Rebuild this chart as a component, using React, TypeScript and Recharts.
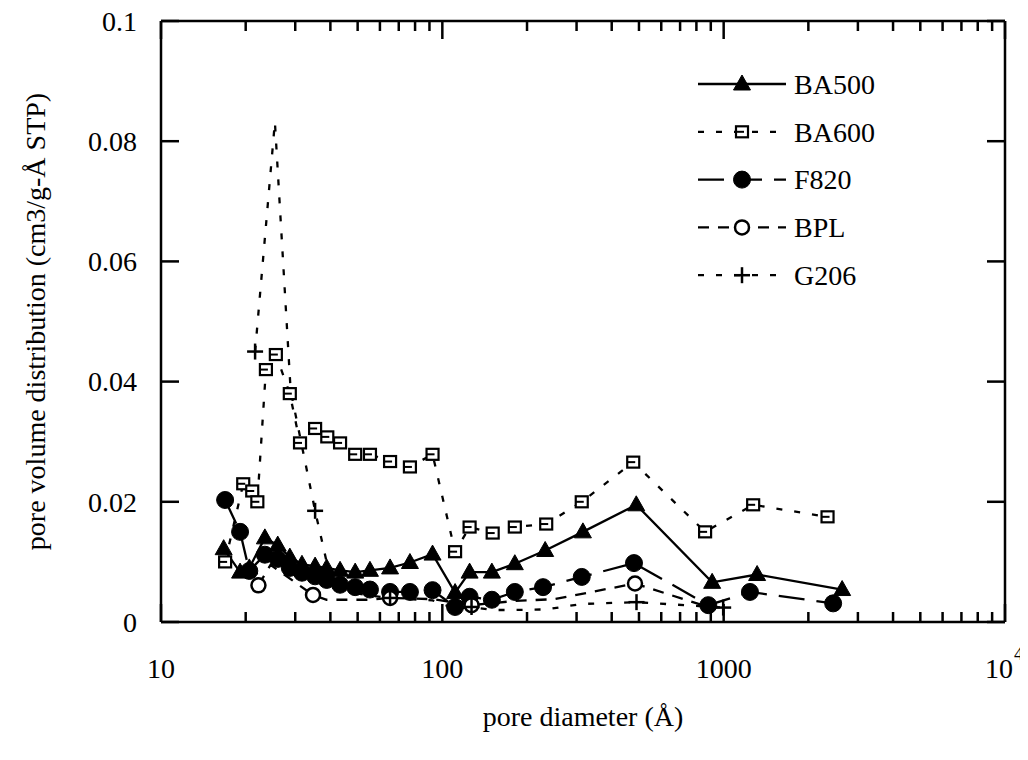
import React from 'react';
import { LineChart, Line, XAxis, YAxis, Legend, Label } from 'recharts';

// ---------------- data ----------------
const BA500_X = [16.7, 19.1, 20.6, 23.4, 26.0, 28.7, 31.7, 35.3, 38.8, 43.3, 49.0, 55.3, 65.2, 76.7, 92.3, 111, 125, 150, 181, 232, 316, 489, 910, 1315, 2637];
const BA500_Y = [0.0122, 0.0083, 0.0090, 0.0140, 0.0128, 0.0108, 0.0096, 0.0093, 0.0090, 0.0086, 0.0083, 0.0086, 0.0090, 0.0099, 0.0113, 0.0049, 0.0083, 0.0083, 0.0097, 0.0119, 0.0150, 0.0195, 0.0066, 0.0079, 0.0054];

const BA600_X = [16.9, 19.6, 21.1, 22.0, 23.6, 25.6, 28.7, 31.2, 35.3, 39.0, 43.3, 49.0, 55.3, 65.2, 76.7, 92.3, 111, 125, 151, 181, 234, 313, 477, 859, 1273, 2340];
const BA600_Y = [0.0100, 0.0230, 0.0218, 0.0200, 0.0420, 0.0445, 0.0380, 0.0298, 0.0322, 0.0308, 0.0298, 0.0279, 0.0279, 0.0267, 0.0258, 0.0279, 0.0117, 0.0158, 0.0148, 0.0158, 0.0163, 0.0200, 0.0266, 0.0150, 0.0195, 0.0175];

const F820_X = [16.9, 19.1, 20.6, 23.4, 26.0, 28.7, 31.7, 35.3, 38.8, 43.3, 49.0, 55.3, 65.2, 76.7, 92.3, 111, 125, 150, 181, 228, 313, 480, 882, 1240, 2450];
const F820_Y = [0.0203, 0.0150, 0.0085, 0.0112, 0.0105, 0.0090, 0.0082, 0.0076, 0.0070, 0.0062, 0.0058, 0.0054, 0.0050, 0.0050, 0.0053, 0.0025, 0.0042, 0.0037, 0.0050, 0.0058, 0.0075, 0.0098, 0.0028, 0.0050, 0.0031];

const BPL_X = [22.2, 24.5, 34.7, 38.8, 55.3, 65.2, 92.3, 127, 181, 250, 484, 880];
const BPL_Y = [0.0061, 0.0095, 0.0045, 0.0037, 0.0037, 0.0040, 0.0038, 0.0028, 0.0035, 0.0038, 0.0064, 0.0025];
const BPL_MARKED = [0, 2, 5, 7, 10];

const G206_X = [21.6, 25.4, 28.9, 35.3, 38.8, 43.3, 49.0, 55.3, 65.2, 76.7, 92.3, 111, 127, 150, 181, 234, 313, 490, 996];
const G206_Y = [0.0450, 0.0832, 0.0385, 0.0185, 0.0100, 0.0062, 0.0048, 0.0044, 0.0040, 0.0038, 0.0036, 0.0022, 0.0025, 0.0020, 0.0020, 0.0021, 0.0030, 0.0033, 0.0024];
const G206_MARKED = [0, 3, 8, 12, 17, 18];

const X_TICKS = [10, 20, 30, 40, 50, 60, 70, 80, 90, 100, 200, 300, 400, 500, 600, 700, 800, 900, 1000, 2000, 3000, 4000, 5000, 6000, 7000, 8000, 9000, 10000];
const X_MAJOR = [10, 100, 1000, 10000];
const X_MAJOR_LABELS = ['10', '100', '1000', '10'];
const Y_TICKS = [0, 0.02, 0.04, 0.06, 0.08, 0.1];
const Y_LABELS = ['0', '0.02', '0.04', '0.06', '0.08', '0.1'];
const SERIES_NAMES = ['BA500', 'BA600', 'F820', 'BPL', 'G206'];

const pts = (xs: number[], ys: number[]) => xs.map((x, i) => ({ x, y: ys[i] }));

// ---------------- styling ----------------
const FONT = 'Liberation Serif, Tinos, Times New Roman, DejaVu Serif, serif';
const FS = 28;
const TXT = { fontFamily: FONT, fontSize: FS, fill: '#000' } as React.CSSProperties;
const AX = { stroke: '#000', strokeWidth: 2.5 };
const MAJOR_LEN = 18;
const MINOR_LEN = 10;

// markers
const Tri = ({ cx, cy }: any) => (
  <polygon points={`${cx - 8.5},${cy + 6} ${cx + 8.5},${cy + 6} ${cx},${cy - 9}`} fill="#000" stroke="#000" strokeWidth={1} />
);
const FilledCircle = ({ cx, cy }: any) => <circle cx={cx} cy={cy} r={8.5} fill="#000" stroke="#000" strokeWidth={1} />;
const OpenCircle = ({ cx, cy }: any) => <circle cx={cx} cy={cy} r={7} fill="#fff" stroke="#000" strokeWidth={2.5} />;
const Sq = ({ cx, cy }: any) => (
  <g>
    <rect x={cx - 6} y={cy - 5.5} width={12} height={11} fill="#fff" stroke="#000" strokeWidth={2.2} />
    <line x1={cx - 6} y1={cy} x2={cx + 2} y2={cy} stroke="#000" strokeWidth={2} />
  </g>
);
const Plus = ({ cx, cy }: any) => (
  <g>
    <line x1={cx - 8} y1={cy} x2={cx + 8} y2={cy} stroke="#000" strokeWidth={2.5} />
    <line x1={cx} y1={cy - 8} x2={cx} y2={cy + 8} stroke="#000" strokeWidth={2.5} />
  </g>
);

const dotAll = (Comp: any, name: string) => (p: any) => (
  <g key={`${name}-${p.index}`}>{p.cx != null && p.cy != null ? <Comp cx={p.cx} cy={p.cy} /> : null}</g>
);
const dotSome = (Comp: any, name: string, marked: number[]) => (p: any) => (
  <g key={`${name}-${p.index}`}>{marked.includes(p.index) && p.cx != null ? <Comp cx={p.cx} cy={p.cy} /> : null}</g>
);

const DASH = {
  BA500: undefined as string | undefined,
  BA600: '6 12',
  F820: '26 12',
  BPL: '11 9',
  G206: '6 12',
};

// ---------------- ticks ----------------
const BottomTick = (p: any) => {
  const { x, y, payload } = p;
  const v = payload.value;
  const mi = X_MAJOR.indexOf(v);
  const major = mi >= 0;
  const last = v === 10000;
  return (
    <g>
      <line x1={x} y1={y} x2={x} y2={y - (major ? MAJOR_LEN : MINOR_LEN)} stroke="#000" strokeWidth={2.5} />
      {major && (
        <text x={last ? x + 8 : x} y={y + 56} textAnchor={last ? 'end' : 'middle'} style={TXT}>
          {X_MAJOR_LABELS[mi]}
        </text>
      )}
      {last && (
        <text x={x + 9} y={y + 38} textAnchor="start" style={{ ...TXT, fontSize: 19 }}>4</text>
      )}
    </g>
  );
};
const TopTick = (p: any) => {
  const { x, y, payload } = p;
  const major = X_MAJOR.includes(payload.value);
  return <line x1={x} y1={y} x2={x} y2={y + (major ? MAJOR_LEN : MINOR_LEN)} stroke="#000" strokeWidth={2.5} />;
};
const LeftTick = (p: any) => {
  const { x, y, payload } = p;
  const i = Y_TICKS.indexOf(payload.value);
  return (
    <g>
      <line x1={x} y1={y} x2={x + MAJOR_LEN} y2={y} stroke="#000" strokeWidth={2.5} />
      <text x={x - 24} y={y} dy="0.35em" textAnchor="end" style={TXT}>
        {i >= 0 ? Y_LABELS[i] : ''}
      </text>
    </g>
  );
};
const RightTick = (p: any) => {
  const { x, y } = p;
  return <line x1={x} y1={y} x2={x - MAJOR_LEN} y2={y} stroke="#000" strokeWidth={2.5} />;
};

// ---------------- legend ----------------
const LegendBox = () => {
  const rows = [
    { name: SERIES_NAMES[0], dash: DASH.BA500, M: Tri },
    { name: SERIES_NAMES[1], dash: DASH.BA600, M: Sq },
    { name: SERIES_NAMES[2], dash: DASH.F820, M: FilledCircle },
    { name: SERIES_NAMES[3], dash: DASH.BPL, M: OpenCircle },
    { name: SERIES_NAMES[4], dash: DASH.G206, M: Plus },
  ];
  return (
    <svg width={280} height={250} style={{ overflow: 'visible' }}>
      {rows.map((r, i) => {
        const y = 26 + i * 47.8;
        return (
          <g key={r.name}>
            <line x1={10} y1={y} x2={98} y2={y} stroke="#000" strokeWidth={2.3} strokeDasharray={r.dash} />
            <r.M cx={54} cy={y} />
            <text x={106} y={y} dy="0.35em" style={TXT}>{r.name}</text>
          </g>
        );
      })}
    </svg>
  );
};

export default function App() {
  return (
    <div style={{ width: 1020, height: 744, background: '#fff' }}>
      <LineChart width={1020} height={744} margin={{ top: 8, right: 13, left: 93, bottom: 30 }}>
        <XAxis
          xAxisId="bottom"
          dataKey="x"
          type="number"
          scale="log"
          domain={[10, 10000]}
          allowDataOverflow
          ticks={X_TICKS}
          interval={0}
          tickLine={false}
          tickSize={0}
          tickMargin={0}
          axisLine={AX}
          tick={BottomTick}
          height={100}
        >
          <Label
            content={(props: any) => {
              const vb = props.viewBox || {};
              return (
                <text x={vb.x + vb.width / 2} y={718} textAnchor="middle" style={TXT}>
                  pore diameter (Å)
                </text>
              );
            }}
          />
        </XAxis>
        <XAxis
          xAxisId="top"
          orientation="top"
          dataKey="x"
          type="number"
          scale="log"
          domain={[10, 10000]}
          allowDataOverflow
          ticks={X_TICKS}
          interval={0}
          tickLine={false}
          tickSize={0}
          tickMargin={0}
          axisLine={AX}
          tick={TopTick}
          height={5}
        />
        <YAxis
          yAxisId="left"
          type="number"
          domain={[0, 0.1]}
          allowDataOverflow
          ticks={Y_TICKS}
          interval={0}
          tickLine={false}
          tickSize={0}
          tickMargin={0}
          axisLine={AX}
          tick={LeftTick}
          width={60}
        >
          <Label
            content={(props: any) => {
              const vb = props.viewBox || {};
              const cy = vb.y + vb.height / 2;
              return (
                <text x={27} y={cy} dy="0.35em" textAnchor="middle" transform={`rotate(-90, 27, ${cy})`} style={TXT}>
                  pore volume distribution (cm3/g-Å STP)
                </text>
              );
            }}
          />
        </YAxis>
        <YAxis
          yAxisId="right"
          orientation="right"
          type="number"
          domain={[0, 0.1]}
          allowDataOverflow
          ticks={Y_TICKS}
          interval={0}
          tickLine={false}
          tickSize={0}
          tickMargin={0}
          axisLine={AX}
          tick={RightTick}
          width={10}
        />
        <Legend
          layout="vertical"
          align="center"
          verticalAlign="middle"
          wrapperStyle={{ position: 'absolute', left: 680, top: 50, width: 280, height: 250 }}
          content={() => <LegendBox />}
        />
        <Line xAxisId="bottom" yAxisId="left" data={pts(F820_X, F820_Y)} dataKey="y" name="F820" type="linear" stroke="#000" strokeWidth={2.3} strokeDasharray={DASH.F820} dot={dotAll(FilledCircle, 'f820')} activeDot={false} isAnimationActive={false} />
        <Line xAxisId="bottom" yAxisId="left" data={pts(BA500_X, BA500_Y)} dataKey="y" name="BA500" type="linear" stroke="#000" strokeWidth={2.3} dot={dotAll(Tri, 'ba500')} activeDot={false} isAnimationActive={false} />
        <Line xAxisId="bottom" yAxisId="left" data={pts(BA600_X, BA600_Y)} dataKey="y" name="BA600" type="linear" stroke="#000" strokeWidth={2.3} strokeDasharray={DASH.BA600} dot={dotAll(Sq, 'ba600')} activeDot={false} isAnimationActive={false} />
        <Line xAxisId="bottom" yAxisId="left" data={pts(BPL_X, BPL_Y)} dataKey="y" name="BPL" type="linear" stroke="#000" strokeWidth={2.3} strokeDasharray={DASH.BPL} dot={dotSome(OpenCircle, 'bpl', BPL_MARKED)} activeDot={false} isAnimationActive={false} />
        <Line xAxisId="bottom" yAxisId="left" data={pts(G206_X, G206_Y)} dataKey="y" name="G206" type="linear" stroke="#000" strokeWidth={2.3} strokeDasharray={DASH.G206} dot={dotSome(Plus, 'g206', G206_MARKED)} activeDot={false} isAnimationActive={false} />
      </LineChart>
    </div>
  );
}
